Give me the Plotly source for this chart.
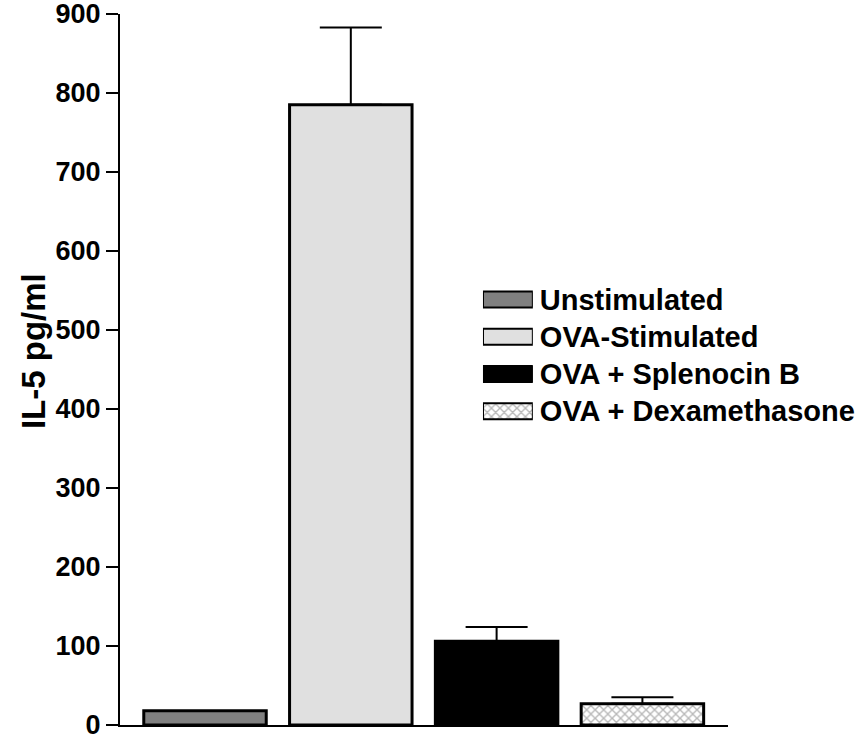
import plotly.graph_objects as go

# IL-5 release per treatment group (pg/ml), mean with upward SEM
groups = ["Unstimulated", "OVA-Stimulated", "OVA + Splenocin B", "OVA + Dexamethasone"]
il5_mean = [18, 785, 106, 27]
il5_sem = [0, 98, 18, 8]
y_ticks = [0, 100, 200, 300, 400, 500, 600, 700, 800, 900]

fills = ["#808080", "#e0e0e0", "#000000", "#ffffff"]
patterns = ["", "", "", "x"]
FONT = "Arial, Liberation Sans, sans-serif"

fig = go.Figure()

positions = list(range(len(groups)))
for i, name in enumerate(groups):
    pat = dict(shape=patterns[i], fgcolor="#707070", bgcolor="#ffffff", size=6, solidity=0.4) if patterns[i] else dict(shape="")
    # main bar
    fig.add_trace(go.Bar(
        x=[positions[i]], y=[il5_mean[i]], width=0.84,
        marker=dict(color=fills[i], line=dict(color="black", width=3), pattern=pat),
        error_y=dict(type="data", symmetric=False, array=[il5_sem[i]], arrayminus=[0],
                     color="black", thickness=2, width=31, visible=il5_sem[i] > 0),
        showlegend=False, xaxis="x", yaxis="y",
    ))
    # key swatch drawn on a small inset axis
    fig.add_trace(go.Bar(
        x=[1], y=[i], orientation="h", width=0.43,
        marker=dict(color=fills[i], line=dict(color="black", width=2), pattern=pat),
        showlegend=False, xaxis="x2", yaxis="y2", hoverinfo="skip",
    ))

fig.update_layout(
    width=862, height=742,
    margin=dict(l=120, r=134, t=14, b=17, autoexpand=False),
    paper_bgcolor="white", plot_bgcolor="white",
    font=dict(family=FONT, color="black"),
    barmode="overlay",
    xaxis=dict(range=[-0.583, 3.587], showticklabels=False, ticks="", showgrid=False,
               zeroline=False, showline=True, linecolor="black", linewidth=2,
               automargin=False),
    yaxis=dict(range=[0, 900], tickvals=y_ticks, ticktext=[str(v) for v in y_ticks],
               ticks="outside", ticklen=12, tickwidth=2, tickcolor="black",
               ticklabeloverflow="allow", automargin=False,
               tickfont=dict(family=FONT, size=27, color="black", weight="bold"),
               showgrid=False, zeroline=False, showline=True, linecolor="black", linewidth=2),
    xaxis2=dict(domain=[0.597, 0.679], range=[0, 1], visible=False, anchor="y2",
                automargin=False),
    yaxis2=dict(domain=[0.415, 0.6246], range=[3.5, -0.5], anchor="x2", side="right",
                tickvals=positions, ticktext=groups, ticks="", showgrid=False,
                zeroline=False, showline=False, ticklabelstandoff=6,
                ticklabeloverflow="allow", automargin=False,
                tickfont=dict(family=FONT, size=29, color="black", weight="bold")),
    annotations=[dict(
        text="IL-5 pg/ml", textangle=-90, xref="paper", yref="paper",
        x=-0.143, y=0.526, showarrow=False, xanchor="center", yanchor="middle",
        font=dict(family=FONT, size=33, color="black", weight="bold"),
    )],
)

fig.write_html("out.html")
